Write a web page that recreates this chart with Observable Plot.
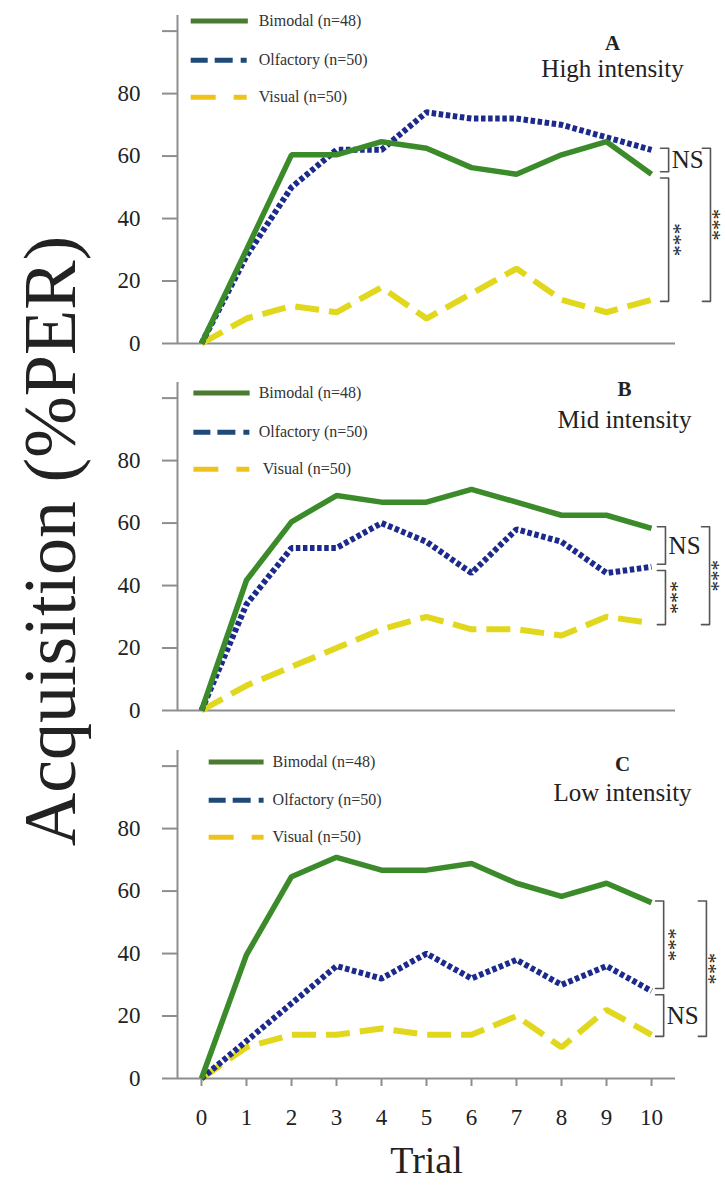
<!DOCTYPE html>
<html><head><meta charset="utf-8">
<script src="https://cdn.jsdelivr.net/npm/d3@7"></script>
<script src="https://cdn.jsdelivr.net/npm/@observablehq/plot@0.6"></script>
<style>
body{margin:0;background:#fff;}
#wrap{position:relative;width:725px;height:1191px;overflow:hidden;font-family:"Liberation Serif","Times New Roman",serif;}
.panel{position:absolute;left:0;}
#ytitle{position:absolute;left:50px;top:541px;transform:translate(-50%,-50%) rotate(-90deg);font-size:74px;white-space:nowrap;color:#222;line-height:1;}
</style></head><body><div id="wrap"><div id="ytitle">Acquisition (%PER)</div></div>
<script>
// ---------- data ----------
const trials = [0, 1, 2, 3, 4, 5, 6, 7, 8, 9, 10];
const seriesNames = ["Bimodal (n=48)", "Olfactory (n=50)", "Visual (n=50)"];
const panelLetters = ["A", "B", "C"];
const panelTitles = ["High intensity", "Mid intensity", "Low intensity"];
const yTickValues = [0, 20, 40, 60, 80, 100];
const xLabel = "Trial";

const highBimodal   = [0, 30, 60.4, 60.4, 64.6, 62.5, 56.3, 54.2, 60.4, 64.6, 54.2];
const highOlfactory = [0, 28, 50, 62, 62, 74, 72, 72, 70, 66, 62];
const highVisual    = [0, 8, 12, 10, 18, 8, 16, 24, 14, 10, 14];
const midBimodal    = [0, 41.7, 60.4, 68.8, 66.7, 66.7, 70.8, 66.7, 62.5, 62.5, 58.3];
const midOlfactory  = [0, 34, 52, 52, 60, 54, 44, 58, 54, 44, 46];
const midVisual     = [0, 8, 14, 20, 26, 30, 26, 26, 24, 30, 28];
const lowBimodal    = [0, 39.6, 64.6, 70.8, 66.7, 66.7, 68.8, 62.5, 58.3, 62.5, 56.3];
const lowOlfactory  = [0, 12, 24, 36, 32, 40, 32, 38, 30, 36, 28];
const lowVisual     = [0, 10, 14, 14, 16, 14, 14, 20, 10, 22, 14];

// significance brackets: [upper series index, lower series index, label, level]
const bracketsHigh = [[1, 0, "NS", 0], [0, 2, "***", 0], [1, 2, "***", 1]];
const bracketsMid  = [[0, 1, "NS", 0], [1, 2, "***", 0], [0, 2, "***", 1]];
const bracketsLow  = [[0, 1, "***", 0], [1, 2, "NS", 0], [0, 2, "***", 1]];

// ---------- styles / layout ----------
const lineStyles = [
  {stroke: "#3b8b2b", strokeWidth: 5.5, dash: null, legendStroke: "#4b7b31", legendDash: null},
  {stroke: "#1b2a8c", strokeWidth: 6, dash: "4.5,2.6", legendStroke: "#1f4a78", legendDash: "17,7,18,8,6,200"},
  {stroke: "#e1d81e", strokeWidth: 6, dash: "24,10", legendStroke: "#f0c31c", legendDash: "25,18,13,200"}
];
const layout = [
  {top: 0,   height: 360, mb: 17,  legendX: [-0.24, 1.03], legendTextX: [1.27, 1.27, 1.27], legendY: [103.2, 90.7, 78.8], letterDy: 34, titleDy: 61, titleDx: 186, innerX: 10.38, outerX: 11.31},
  {top: 367, height: 360, mb: 17,  legendX: [-0.18, 1.07], legendTextX: [1.27, 1.27, 1.36], legendY: [101.6, 89.1, 77.2], letterDy: 13, titleDy: 45, titleDx: 198, innerX: 10.31, outerX: 11.29},
  {top: 735, height: 456, mb: 113, legendX: [0.16, 1.38],  legendTextX: [1.58, 1.58, 1.58], legendY: [101.3, 89.1, 77.2], letterDy: 20, titleDy: 50, titleDx: 196, innerX: 10.27, outerX: 11.22}
];
const panelSeries = [
  [highBimodal, highOlfactory, highVisual],
  [midBimodal, midOlfactory, midVisual],
  [lowBimodal, lowOlfactory, lowVisual]
];
const panelBrackets = [bracketsHigh, bracketsMid, bracketsLow];

const axisGray = "#8e8e8e";
const textColor = "#222";
const xDomain = [-0.533, 10.533];
const yDomain = [0, 105];

function makePanel(p) {
  const L = layout[p];
  const series = panelSeries[p];
  const rows = [];
  series.forEach((vals, s) => trials.forEach((t, i) => rows.push({trial: t, value: vals[i], series: s})));
  const ends = series.map(v => v[v.length - 1]);

  // brackets
  const bl = panelBrackets[p];
  const bracketPts = [];
  const bracketLabels = [];
  let innerCount = 0;
  bl.forEach(([hi, lo, label, level], k) => {
    let y1, y2;
    if (level === 1) {
      y1 = Math.max(ends[hi], ends[lo]) + 0.5;
      y2 = Math.min(ends[hi], ends[lo]) - 0.5;
    } else if (innerCount++ === 0) {
      y1 = ends[hi] + 0.5; y2 = ends[lo] + 0.8;
    } else {
      y1 = ends[hi] - 1.2; y2 = ends[lo] - 0.5;
    }
    const xl = level === 1 ? L.outerX : L.innerX;
    const xt = xl - 0.18;
    [[xt, y1], [xl, y1], [xl, y2], [xt, y2]].forEach(([x, y]) => bracketPts.push({x, y, k}));
    bracketLabels.push({x: xl, y: (y1 + y2) / 2, label, level});
  });

  const marks = [
    Plot.ruleY([0], {stroke: axisGray, strokeWidth: 2}),
    Plot.ruleX([xDomain[0]], {y1: yDomain[0], y2: yDomain[1], stroke: axisGray, strokeWidth: 2}),
    Plot.axisY({ticks: yTickValues, tickFormat: d => d === 100 ? "" : d, tickSize: 15, tickPadding: 22, stroke: axisGray, strokeWidth: 2, fill: textColor, fontSize: 23, label: null})
  ];
  if (p === 2) {
    marks.push(Plot.axisX({ticks: trials, tickSize: 8, tickPadding: 22, stroke: axisGray, strokeWidth: 2, fill: textColor, fontSize: 23, label: null}));
    marks.push(Plot.text([xLabel], {text: d => d, frameAnchor: "bottom", dy: 82, fontSize: 38, fill: textColor, lineAnchor: "middle"}));
  }
  // data lines
  [2, 1, 0].forEach(s => {
    const st = lineStyles[s];
    marks.push(Plot.line(rows.filter(r => r.series === s), {
      x: "trial", y: "value", stroke: st.stroke, strokeWidth: st.strokeWidth,
      strokeDasharray: st.dash, strokeLinecap: "butt", strokeLinejoin: "miter"
    }));
  });
  // legend
  seriesNames.forEach((name, s) => {
    const st = lineStyles[s];
    marks.push(Plot.link([name], {
      x1: L.legendX[0], x2: L.legendX[1], y1: L.legendY[s], y2: L.legendY[s],
      stroke: st.legendStroke, strokeWidth: 5, strokeDasharray: st.legendDash, strokeLinecap: "butt"
    }));
  });
  marks.push(Plot.text(seriesNames, {
    text: d => d, x: (d, i) => L.legendTextX[i], y: (d, i) => L.legendY[i],
    textAnchor: "start", fontSize: 16, fill: "#333", lineAnchor: "middle"
  }));
  // panel titles
  marks.push(Plot.text([panelLetters[p]], {text: d => d, frameAnchor: "top", dx: L.titleDx, dy: L.letterDy, fontSize: 21, fontWeight: "bold", fill: textColor, lineAnchor: "bottom"}));
  marks.push(Plot.text([panelTitles[p]], {text: d => d, frameAnchor: "top", dx: L.titleDx, dy: L.titleDy, fontSize: 25, fill: textColor, lineAnchor: "bottom"}));
  // brackets
  marks.push(Plot.line(bracketPts, {x: "x", y: "y", z: "k", stroke: "#555", strokeWidth: 1.6, curve: "linear"}));
  marks.push(Plot.text(bracketLabels.filter(d => d.label === "NS"), {x: d => d.x + 0.07, y: "y", text: "label", textAnchor: "start", fontSize: 25, fill: textColor, lineAnchor: "middle"}));
  marks.push(Plot.text(bracketLabels.filter(d => d.label !== "NS" && d.level === 0), {x: d => d.x + 0.12, y: "y", text: "label", rotate: 90, fontSize: 22, fill: "#222", lineAnchor: "middle"}));
  marks.push(Plot.text(bracketLabels.filter(d => d.label !== "NS" && d.level === 1), {x: d => d.x + 0.045, y: "y", text: "label", rotate: 90, fontSize: 21, fill: "#222", lineAnchor: "middle"}));

  const chart = Plot.plot({
    width: 725, height: L.height,
    marginLeft: 177, marginRight: 50, marginTop: 15, marginBottom: L.mb,
    x: p === 2 ? {domain: xDomain} : {domain: xDomain, axis: null},
    y: {domain: yDomain, axis: null},
    style: {fontFamily: "'Liberation Serif','Times New Roman',serif", fontSize: "23px", color: textColor, background: "transparent", overflow: "visible"},
    marks
  });
  chart.classList.add("panel");
  chart.style.position = "absolute";
  chart.style.top = L.top + "px";
  chart.style.left = "0px";
  return chart;
}

const wrap = document.getElementById("wrap");
[0, 1, 2].forEach(p => wrap.appendChild(makePanel(p)));
</script>
</body></html>
